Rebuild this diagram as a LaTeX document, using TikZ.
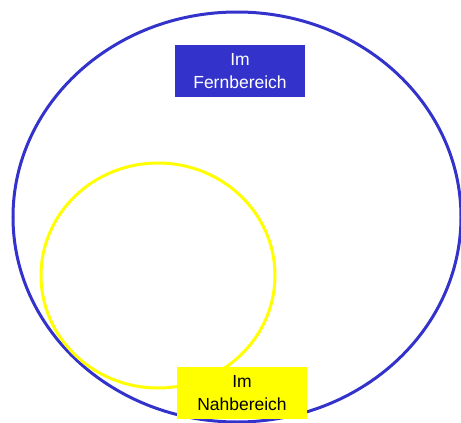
\documentclass[tikz,border=0pt]{standalone}
\usepackage{fontspec}
\setmainfont{Liberation Sans}
\usepackage{tikz}
\usetikzlibrary{positioning}
\definecolor{fernblue}{RGB}{51,51,204}
\definecolor{nahyellow}{RGB}{255,255,0}

\begin{document}
\begin{tikzpicture}[x=1pt, y=-1pt,
    area/.style={line width=3pt},
    tag/.style={minimum width=130pt, minimum height=52pt, inner sep=0pt,
      align=center, font=\fontsize{17.5}{22.5}\selectfont}]

    \useasboundingbox (0,0) rectangle (461,423);

    % ================= FAR RANGE =================
    \draw[area, draw=fernblue] (237,217) ellipse (224 and 205);

    % ================= NEAR RANGE =================
    \draw[area, draw=nahyellow] (158,275.5) ellipse (117 and 112.5);

    % Labels
    \node[tag, fill=fernblue, text=white] (fern) at (240,71) {Im\\Fernbereich};
    \node[tag, fill=nahyellow, text=black] (nah) at (242,393) {Im\\Nahbereich};

\end{tikzpicture}
\end{document}
